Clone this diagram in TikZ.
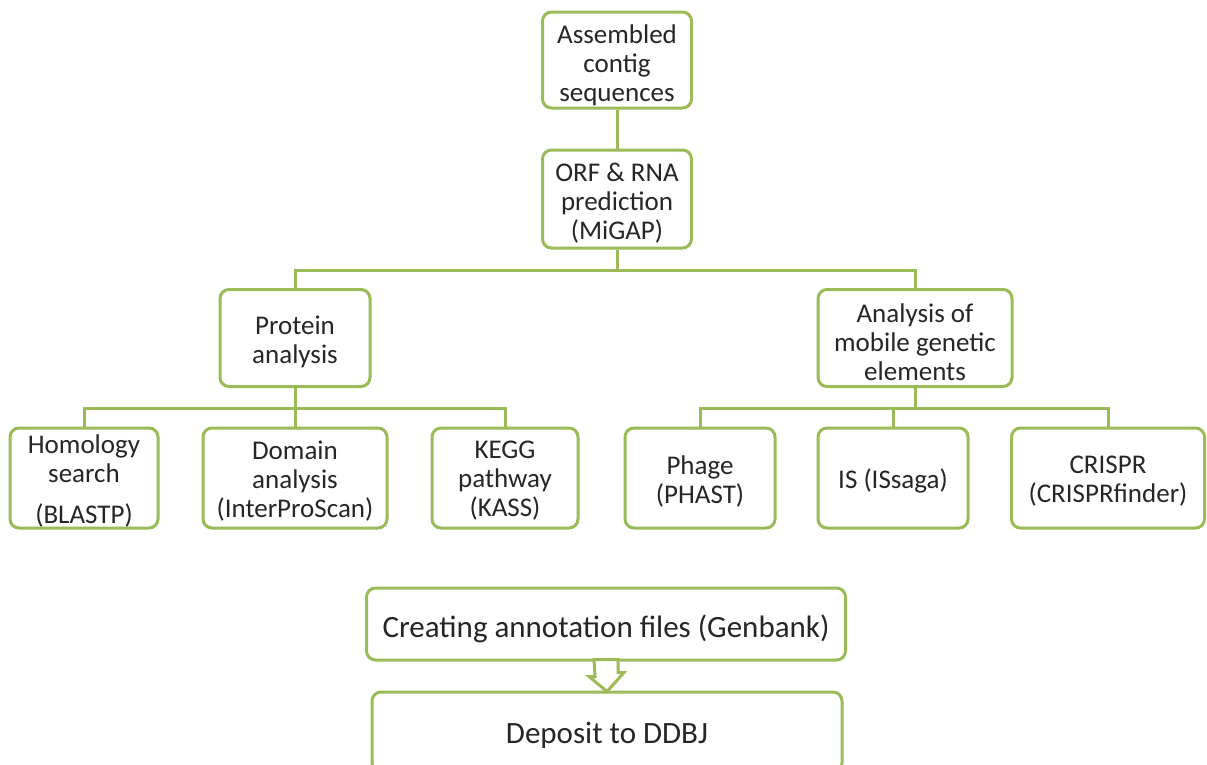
\documentclass[tikz,border=0pt]{standalone}
\usepackage{fontspec}
\setmainfont{Carlito}
\definecolor{bgreen}{HTML}{9BBB59}
\definecolor{txt}{HTML}{262626}
\begin{document}
\begin{tikzpicture}[x=1pt,y=-1pt,
  box/.style={draw=bgreen,line width=3pt,rounded corners=9pt,fill=white,inner sep=0pt},
  lbl/.style={text=txt,align=center,inner sep=0pt,font=\fontsize{27}{29}\selectfont},
  big/.style={text=txt,align=center,inner sep=0pt,font=\fontsize{31}{34}\selectfont},
  conn/.style={draw=bgreen,line width=3pt}]
\useasboundingbox (0,0) rectangle (1207,764);
\clip (0,0) rectangle (1207,764);
\node[box,minimum width=149pt,minimum height=96pt] (asm) at (617,60) {};
\node[lbl] (asmt) at ([yshift=-5pt]asm) {Assembled\\contig\\sequences};
\node[box,minimum width=149pt,minimum height=98pt] (orf) at (617,199) {};
\node[lbl] (orft) at ([yshift=-4pt]orf) {ORF \& RNA\\prediction\\(MiGAP)};
\node[box,minimum width=150pt,minimum height=97pt] (prot) at (295,338) {};
\node[lbl] (prott) at ([yshift=-4pt]prot) {Protein\\analysis};
\node[box,minimum width=194pt,minimum height=97pt] (mob) at (915,338) {};
\node[lbl] (mobt) at ([yshift=-4pt]mob) {Analysis of\\mobile genetic\\elements};
\node[box,minimum width=148pt,minimum height=100pt] (hom) at (84,478) {};
\node[lbl] (homt) at ([yshift=-3pt]hom) {Homology\\search\\[12pt](BLASTP)};
\node[box,minimum width=184pt,minimum height=100pt] (dom) at (295,478) {};
\node[lbl] (domt) at ([yshift=-3pt]dom) {Domain\\analysis\\(InterProScan)};
\node[box,minimum width=146pt,minimum height=100pt] (kegg) at (505,478) {};
\node[lbl] (keggt) at ([yshift=-3pt]kegg) {KEGG\\pathway\\(KASS)};
\node[box,minimum width=150pt,minimum height=100pt] (phage) at (700,478) {};
\node[lbl] (phaget) at ([yshift=-3pt]phage) {Phage\\(PHAST)};
\node[box,minimum width=150pt,minimum height=100pt] (is) at (893,478) {};
\node[lbl] (ist) at ([yshift=-3pt]is) {IS (ISsaga)};
\node[box,minimum width=193pt,minimum height=100pt] (crispr) at (1108,478) {};
\node[lbl] (crisprt) at ([yshift=-3pt]crispr) {CRISPR\\(CRISPRfinder)};
\node[box,minimum width=479pt,minimum height=72pt] (create) at (606,624) {};
\node[big] (createt) at ([yshift=-5pt]create) {Creating annotation files (Genbank)};
\node[box,minimum width=470pt,minimum height=80pt] (dep) at (607,732) {};
\node[big] (dept) at (607,735) {Deposit to DDBJ};
\coordinate (j1) at (617,270);
\coordinate (j2) at (295,408);
\coordinate (j3) at (915,408);
\draw[conn] (asm.south) -- (orf.north);
\draw[conn] (orf.south) -- (j1);
\draw[conn] (prot.north) |- (j1) -| (mob.north);
\draw[conn] (prot.south) -- (dom.north);
\draw[conn] (hom.north) |- (j2) -| (kegg.north);
\draw[conn] (mob.south) -- (j3);
\draw[conn] (phage.north) |- (j3) -| (crispr.north);
\draw[conn] (is.north) -- (is.north |- j3);
\draw[draw=bgreen,fill=white,line width=3pt,line join=miter]
  ([xshift=-12pt,yshift=2pt]create.south) -- ([xshift=12pt,yshift=2pt]create.south)
  -- ++(0,13) -- ++(6,0) -- ([yshift=-1pt]dep.north) -- ++(-18,-15) -- ++(6,0) -- cycle;
\end{tikzpicture}
\end{document}
